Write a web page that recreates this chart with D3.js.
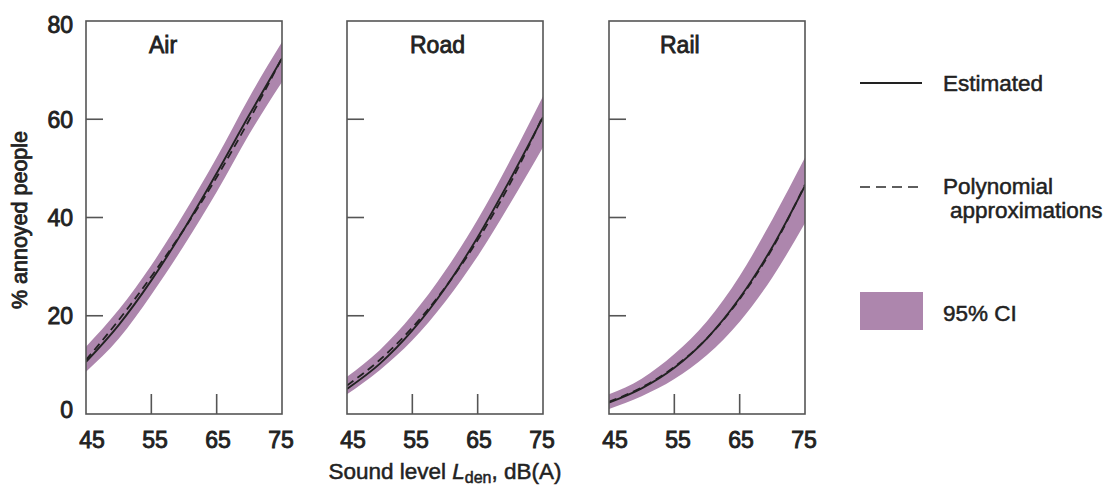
<!DOCTYPE html>
<html>
<head>
<meta charset="utf-8">
<script src="https://cdn.jsdelivr.net/npm/d3@7"></script>
<style>
  html, body { margin: 0; padding: 0; background: #fff; }
  svg { display: block; }
  text { font-family: "Liberation Sans", Arial, Helvetica, sans-serif; fill: #222; }
</style>
</head>
<body>
<svg id="chart" width="1113" height="488"></svg>
<script>
// ---------- data ----------
const levels = [45, 50, 55, 60, 65, 70, 75];
const categories = ["Air", "Road", "Rail"];

const estAir  = [10.6, 18.1, 27.2, 37.6, 49.0, 60.9, 72.4];
const polyAir = [11.0, 19.1, 28.0, 37.6, 48.2, 59.9, 72.5];
const lowAir  = [8.6, 15.3, 24.3, 34.3, 45.2, 57.0, 67.6];
const highAir = [13.7, 21.2, 30.3, 40.8, 52.2, 64.5, 75.7];

const estRoad  = [5.1, 10.2, 17.0, 25.6, 36.0, 47.8, 60.4];
const polyRoad = [5.8, 11.0, 17.6, 25.7, 35.4, 47.0, 60.7];
const lowRoad  = [4.0, 8.9, 15.0, 22.8, 32.1, 42.9, 54.3];
const highRoad = [7.6, 13.0, 20.2, 29.1, 39.6, 51.7, 64.7];

const estRail  = [2.3, 5.2, 9.4, 15.4, 23.6, 34.0, 46.5];
const polyRail = [2.5, 5.4, 9.6, 15.4, 23.4, 33.7, 46.7];
const lowRail  = [1.0, 3.6, 7.1, 12.0, 18.8, 27.8, 38.9];
const highRail = [4.0, 7.2, 12.2, 18.9, 28.1, 39.6, 52.2];

const xTickValues = [45, 55, 65, 75];
const yTickValues = [0, 20, 40, 60, 80];
const legendLabels = ["Estimated", "Polynomial", "approximations", "95% CI"];

// ---------- layout ----------
const series = {
  Air:  { est: estAir,  poly: polyAir,  low: lowAir,  high: highAir },
  Road: { est: estRoad, poly: polyRoad, low: lowRoad, high: highRoad },
  Rail: { est: estRail, poly: polyRail, low: lowRail, high: highRail }
};
const panelLefts = [86, 347, 609];
const panelWidth = 196;
const titleOffsets = [63, 63, 51];
const bandColor = "#ad86ad";
const frameColor = "#555";
const ink = "#222";

const svg = d3.select("#chart");
const y = d3.scaleLinear().domain([0, 80]).range([414, 21]);

function heavy(sel, w) {
  return sel.attr("stroke", ink).attr("stroke-width", w).attr("paint-order", "stroke");
}

categories.forEach((cat, i) => {
  const left = panelLefts[i];
  const x = d3.scaleLinear().domain([45, 75]).range([left, left + panelWidth]);
  const d = series[cat];
  const g = svg.append("g");

  const clipId = "clip" + i;
  svg.append("clipPath").attr("id", clipId)
    .append("rect").attr("x", left).attr("y", y(80))
    .attr("width", panelWidth).attr("height", y(0) - y(80));

  const plot = g.append("g").attr("clip-path", `url(#${clipId})`);

  const area = d3.area()
    .x((v, k) => x(levels[k]))
    .y0((v, k) => y(d.low[k]))
    .y1((v, k) => y(d.high[k]))
    .curve(d3.curveMonotoneX);
  plot.append("path").attr("d", area(levels)).attr("fill", bandColor);

  const line = arr => d3.line()
    .x((v, k) => x(levels[k]))
    .y(v => y(v))
    .curve(d3.curveMonotoneX)(arr);

  plot.append("path").attr("d", line(d.poly))
    .attr("fill", "none").attr("stroke", "#222").attr("stroke-width", 1.8)
    .attr("stroke-dasharray", "8,5");
  plot.append("path").attr("d", line(d.est))
    .attr("fill", "none").attr("stroke", ink).attr("stroke-width", 1.9);

  // frame
  g.append("rect").attr("x", left).attr("y", y(80))
    .attr("width", panelWidth).attr("height", y(0) - y(80))
    .attr("fill", "none").attr("stroke", frameColor).attr("stroke-width", 1.6);

  // y ticks (inward)
  g.selectAll(".yt").data(yTickValues.filter(v => v > 0 && v < 80)).enter()
    .append("line")
    .attr("x1", left).attr("x2", left + 17)
    .attr("y1", v => y(v)).attr("y2", v => y(v))
    .attr("stroke", frameColor).attr("stroke-width", 1.6);

  // x ticks (inward)
  g.selectAll(".xt").data(xTickValues.filter(v => v > 45 && v < 75)).enter()
    .append("line")
    .attr("x1", v => x(v)).attr("x2", v => x(v))
    .attr("y1", y(0)).attr("y2", y(0) - 20)
    .attr("stroke", frameColor).attr("stroke-width", 1.6);

  // x tick labels
  heavy(g.selectAll(".xl").data(xTickValues).enter()
    .append("text")
    .attr("x", v => x(v) + 6 - (v - 45) / 30 * 7)
    .attr("y", 448)
    .attr("text-anchor", "middle")
    .attr("font-size", 23)
    .text(v => v), 0.9);

  // panel title
  heavy(g.append("text")
    .attr("x", left + titleOffsets[i]).attr("y", 53)
    .attr("font-size", 23)
    .text(cat), 0.8);

  if (i === 0) {
    heavy(g.selectAll(".yl").data(yTickValues).enter()
      .append("text")
      .attr("x", 73)
      .attr("y", v => Math.max(25, Math.min(410, y(v))))
      .attr("dy", "0.36em")
      .attr("text-anchor", "end")
      .attr("font-size", 23)
      .text(v => v), 0.9);
  }
});

// y axis title
heavy(svg.append("text")
  .attr("transform", "translate(27,220) rotate(-90)")
  .attr("text-anchor", "middle")
  .attr("font-size", 21.5)
  .text("% annoyed people"), 0.8);

// x axis title
const xt = heavy(svg.append("text")
  .attr("x", 445).attr("y", 479)
  .attr("text-anchor", "middle")
  .attr("font-size", 22.5), 0.5);
xt.append("tspan").text("Sound level ");
xt.append("tspan").attr("font-style", "italic").text("L");
xt.append("tspan").attr("font-size", 16).attr("dy", 4).text("den");
xt.append("tspan").attr("dy", -4).text(", dB(A)");

// legend
const lg = svg.append("g");
lg.append("line").attr("x1", 860).attr("x2", 922).attr("y1", 83).attr("y2", 83)
  .attr("stroke", ink).attr("stroke-width", 1.8);
heavy(lg.append("text").attr("x", 943).attr("y", 91).attr("font-size", 22.5)
  .text(legendLabels[0]), 0.5);

lg.append("line").attr("x1", 860).attr("x2", 918).attr("y1", 187).attr("y2", 187)
  .attr("stroke", "#2a2a2a").attr("stroke-width", 1.7).attr("stroke-dasharray", "10,6");
heavy(lg.append("text").attr("x", 943).attr("y", 194).attr("font-size", 22.5)
  .text(legendLabels[1]), 0.5);
heavy(lg.append("text").attr("x", 950).attr("y", 218).attr("font-size", 22.5)
  .text(legendLabels[2]), 0.5);

lg.append("rect").attr("x", 860).attr("y", 292).attr("width", 63).attr("height", 38)
  .attr("fill", bandColor);
heavy(lg.append("text").attr("x", 943).attr("y", 321).attr("font-size", 22.5)
  .text(legendLabels[3]), 0.5);
</script>
</body>
</html>
